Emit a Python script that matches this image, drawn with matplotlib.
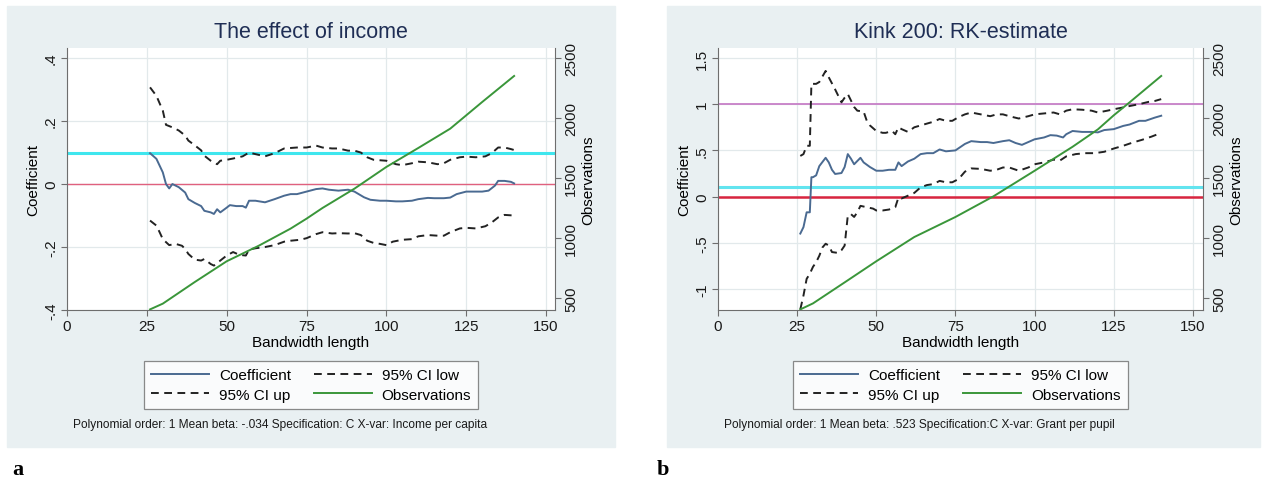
import numpy as np
import matplotlib.pyplot as plt
from matplotlib.lines import Line2D
from matplotlib.patches import Rectangle

plt.rcParams['font.family'] = ['Liberation Sans', 'DejaVu Sans']

# ---- data: (bandwidth, value) ----
# panel a: the effect of income
coef_a = [(26, 0.098), (28, 0.08), (30, 0.037), (31, 0.0), (32, -0.014), (33, 0.0),
          (35, -0.01), (37, -0.027), (38, -0.048), (40, -0.06), (42, -0.07), (43, -0.085),
          (45, -0.09), (46, -0.095), (47, -0.08), (48, -0.09), (50, -0.075), (51, -0.067),
          (53, -0.07), (55, -0.07), (56, -0.075), (57, -0.053), (59, -0.053), (62, -0.058),
          (65, -0.048), (68, -0.037), (70, -0.032), (72, -0.032), (75, -0.024), (78, -0.016),
          (80, -0.014), (82, -0.018), (85, -0.021), (88, -0.018), (90, -0.024), (93, -0.042),
          (95, -0.05), (98, -0.053), (100, -0.053), (103, -0.055), (105, -0.055), (108, -0.053),
          (110, -0.048), (113, -0.044), (115, -0.045), (118, -0.045), (120, -0.043), (122, -0.032),
          (125, -0.024), (128, -0.024), (130, -0.024), (132, -0.021), (134, -0.005), (135, 0.01),
          (137, 0.01), (139, 0.007), (140, 0.002)]
ci_up_a = [(26, 0.307), (28, 0.28), (30, 0.233), (31, 0.188), (33, 0.18), (35, 0.17),
           (37, 0.154), (38, 0.138), (40, 0.123), (42, 0.107), (43, 0.09), (45, 0.074),
           (47, 0.063), (48, 0.074), (50, 0.077), (52, 0.081), (55, 0.088), (57, 0.1),
           (59, 0.095), (62, 0.088), (65, 0.098), (68, 0.113), (72, 0.116), (75, 0.116),
           (78, 0.122), (80, 0.116), (83, 0.113), (85, 0.113), (88, 0.106), (90, 0.106),
           (92, 0.1), (94, 0.085), (96, 0.077), (100, 0.074), (103, 0.063), (105, 0.06),
           (108, 0.066), (110, 0.071), (113, 0.069), (116, 0.063), (118, 0.066), (120, 0.077),
           (123, 0.085), (125, 0.087), (128, 0.085), (131, 0.088), (133, 0.098), (135, 0.116),
           (137, 0.116), (139, 0.111), (140, 0.108)]
ci_low_a = [(26, -0.116), (28, -0.132), (29, -0.153), (30, -0.175), (32, -0.194), (34, -0.19),
            (36, -0.196), (37, -0.206), (38, -0.222), (40, -0.24), (42, -0.243), (43, -0.238),
            (45, -0.254), (46, -0.259), (48, -0.243), (50, -0.227), (52, -0.216), (54, -0.225),
            (56, -0.227), (57, -0.208), (59, -0.204), (62, -0.2), (65, -0.194), (68, -0.183),
            (70, -0.18), (73, -0.177), (75, -0.172), (78, -0.159), (80, -0.153), (83, -0.157),
            (85, -0.156), (88, -0.157), (90, -0.156), (92, -0.162), (94, -0.18), (96, -0.187),
            (98, -0.19), (100, -0.194), (102, -0.183), (105, -0.177), (108, -0.175), (110, -0.166),
            (113, -0.162), (116, -0.164), (118, -0.164), (120, -0.153), (123, -0.141), (125, -0.139),
            (128, -0.141), (131, -0.134), (133, -0.122), (135, -0.106), (137, -0.098), (140, -0.1)]
obs_a = [(26, 405), (30, 453), (40, 633), (50, 806), (60, 935), (70, 1078), (75, 1161),
         (80, 1250), (90, 1411), (100, 1592), (110, 1750), (120, 1911), (125, 2022),
         (130, 2133), (140, 2350)]

# panel b: kink 200, RK-estimate
coef_b = [(26, -0.40), (27, -0.33), (28, -0.17), (29, -0.17), (29.5, 0.21), (30, 0.21),
          (31, 0.23), (32, 0.33), (34, 0.42), (35, 0.37), (36, 0.29), (37, 0.245), (39, 0.255),
          (40, 0.32), (41, 0.46), (42, 0.41), (43, 0.35), (45, 0.42), (46, 0.37), (48, 0.32),
          (50, 0.28), (52, 0.28), (54, 0.29), (56, 0.29), (57, 0.37), (58, 0.33), (60, 0.38),
          (62, 0.41), (64, 0.46), (66, 0.47), (68, 0.47), (70, 0.51), (72, 0.49), (75, 0.50),
          (78, 0.57), (80, 0.60), (83, 0.59), (85, 0.59), (87, 0.58), (90, 0.60), (92, 0.61),
          (94, 0.58), (96, 0.56), (98, 0.59), (100, 0.62), (103, 0.64), (105, 0.665), (107, 0.66),
          (109, 0.64), (110, 0.675), (112, 0.71), (115, 0.70), (118, 0.70), (120, 0.695),
          (122, 0.72), (125, 0.73), (128, 0.765), (130, 0.78), (133, 0.82), (135, 0.82),
          (138, 0.855), (140, 0.875)]
ci_up_b = [(26, 0.44), (27, 0.46), (28, 0.55), (29, 0.55), (29.5, 1.22), (31, 1.22), (32, 1.24),
           (34, 1.36), (35, 1.29), (37, 1.16), (38, 1.09), (39, 1.02), (40, 1.07), (41, 1.11),
           (42, 1.04), (43, 0.97), (44, 0.93), (46, 0.92), (47, 0.82), (48, 0.77), (50, 0.71),
           (52, 0.69), (53, 0.69), (55, 0.71), (56, 0.675), (57, 0.75), (58, 0.73), (60, 0.70),
           (62, 0.75), (64, 0.77), (66, 0.79), (68, 0.81), (70, 0.84), (72, 0.82), (74, 0.82),
           (76, 0.86), (78, 0.89), (80, 0.91), (83, 0.89), (86, 0.87), (88, 0.89), (90, 0.89),
           (92, 0.87), (95, 0.845), (98, 0.87), (100, 0.89), (103, 0.90), (106, 0.91), (108, 0.89),
           (110, 0.93), (112, 0.945), (115, 0.94), (118, 0.93), (120, 0.91), (123, 0.93),
           (125, 0.945), (128, 0.965), (130, 0.98), (133, 1.00), (136, 1.025), (138, 1.035),
           (140, 1.055)]
ci_low_b = [(26, -1.22), (27, -1.07), (28, -0.89), (29, -0.835), (30, -0.76), (31, -0.71),
            (32, -0.64), (33, -0.55), (34, -0.51), (35, -0.53), (36, -0.60), (38, -0.61),
            (39, -0.58), (40, -0.53), (41, -0.205), (42, -0.19), (43, -0.22), (44, -0.17),
            (45, -0.10), (47, -0.115), (49, -0.13), (50, -0.15), (52, -0.15), (54, -0.14),
            (56, -0.115), (57, -0.01), (58, -0.02), (60, 0.01), (62, 0.04), (64, 0.10),
            (66, 0.125), (68, 0.135), (70, 0.17), (72, 0.155), (74, 0.155), (76, 0.19),
            (78, 0.27), (80, 0.305), (83, 0.30), (86, 0.28), (88, 0.29), (90, 0.315), (92, 0.315),
            (95, 0.28), (98, 0.315), (100, 0.35), (103, 0.37), (106, 0.40), (108, 0.39),
            (110, 0.435), (113, 0.46), (116, 0.47), (119, 0.47), (122, 0.485), (125, 0.52),
            (128, 0.55), (131, 0.585), (134, 0.615), (137, 0.65), (140, 0.69)]
obs_b = [(26, 405), (30, 455), (40, 630), (50, 806), (62, 1008), (75, 1175), (87, 1347),
         (100, 1560), (112, 1760), (120, 1905), (125, 2022), (130, 2130), (140, 2350)]

xticks = [0, 25, 50, 75, 100, 125, 150]
obs_ticks = [500, 1000, 1500, 2000, 2500]
yticks_a = [-0.4, -0.2, 0, 0.2, 0.4]
ylabels_a = ['-.4', '-.2', '0', '.2', '.4']
yticks_b = [-1, -0.5, 0, 0.5, 1, 1.5]
ylabels_b = ['-1', '-.5', '0', '.5', '1', '1.5']

titles = ['The effect of income', 'Kink 200: RK-estimate']
notes = ['Polynomial order: 1 Mean beta: -.034 Specification: C X-var: Income per capita',
         'Polynomial order: 1 Mean beta: .523 Specification:C X-var: Grant per pupil']

# ---- drawing ----
W, H = 1266, 489
fig = plt.figure(figsize=(W / 100, H / 100), dpi=100)

BG = '#e9f0f2'
AXC = '#6e6e6e'
COEF_C = '#4a6a91'
CI_C = '#222222'
OBS_C = '#3a963a'

for x0, x1 in [(7, 615), (667, 1260)]:
    fig.add_artist(Rectangle((x0 / W, 1 - 448 / H), (x1 - x0) / W, 441 / H,
                             transform=fig.transFigure, color=BG, zorder=-10))


def panel(l, r, xmax, ylim, yticks, ylabels, title, coef, up, low, obs, hlines, note):
    ax = fig.add_axes([l / W, 1 - 311 / H, (r - l) / W, 262 / H])
    ax.set_facecolor('white')
    for s in ['top', 'right']:
        ax.spines[s].set_visible(False)
    for s in ['left', 'bottom']:
        ax.spines[s].set_color(AXC)
    ax.set_xlim(0, xmax)
    ax.set_ylim(*ylim)
    ax.set_xticks(xticks)
    ax.set_yticks(yticks, ylabels, rotation=90, va='center')
    ax.tick_params(direction='out', length=4, width=0.8, color=AXC,
                   labelsize=11, labelcolor='#1a1a1a', pad=2.5)
    ax.grid(True, color='#e2e9eb', lw=0.9)
    ax.set_axisbelow(True)

    for y, c, lw in hlines:
        ax.axhline(y, color=c, lw=lw, zorder=1.5)

    c = np.array(coef)
    u = np.array(up)
    lo = np.array(low)
    ax.plot(c[:, 0], c[:, 1], color=COEF_C, lw=1.4, zorder=3)
    ax.plot(lo[:, 0], lo[:, 1], color=CI_C, lw=1.4, dashes=(4, 2.8), zorder=3)
    ax.plot(u[:, 0], u[:, 1], color=CI_C, lw=1.4, dashes=(4, 2.8), zorder=3)

    ax.set_xlabel('Bandwidth length', fontsize=11, va='center')
    ax.xaxis.set_label_coords(0.5, -32 / 262)
    ax.set_ylabel('Coefficient', fontsize=11, va='center')
    ax.yaxis.set_label_coords(-34 / (r - l), 0.5)

    ax2 = ax.twinx()
    for s in ['top', 'left', 'bottom']:
        ax2.spines[s].set_visible(False)
    ax2.spines['right'].set_color(AXC)
    o = np.array(obs)
    ax2.plot(o[:, 0], o[:, 1], color=OBS_C, lw=1.4)
    ax2.set_ylim(400, 2583)
    ax2.set_yticks(obs_ticks, [str(t) for t in obs_ticks], rotation=90, va='center')
    ax2.tick_params(direction='out', length=4, width=0.8, color=AXC,
                    labelsize=11, labelcolor='#1a1a1a', pad=2.5)
    ax2.set_ylabel('Observations', fontsize=11, va='center', rotation=90)
    ax2.yaxis.set_label_coords(1 + 33 / (r - l), 0.5)

    cx = (l + r) / 2
    fig.text(cx / W, 1 - 33 / H, title, ha='center', va='center',
             fontsize=15.5, color='#1f2e55')

    handles = [Line2D([], [], color=COEF_C, lw=1.4),
               Line2D([], [], color=CI_C, lw=1.4, dashes=(4, 2.8)),
               Line2D([], [], color=CI_C, lw=1.4, dashes=(4, 2.8)),
               Line2D([], [], color=OBS_C, lw=1.4)]
    labels = ['Coefficient', '95% CI up', '95% CI low', 'Observations']
    leg = ax.legend(handles, labels, ncol=2, loc='center',
                    bbox_to_anchor=(cx / W, 1 - 386 / H), bbox_transform=fig.transFigure,
                    fontsize=11, frameon=True, fancybox=False, edgecolor='#6e6e6e',
                    handlelength=3.8, handletextpad=0.65, columnspacing=1.5,
                    borderpad=0.45, labelspacing=0.35)
    leg.get_frame().set_linewidth(0.9)

    fig.text((l + 6) / W, 1 - 425 / H, note, ha='left', va='center',
             fontsize=8.6, color='#1a1a1a')


panel(67, 555, 152.8, (-0.4, 0.432), yticks_a, ylabels_a, titles[0],
      coef_a, ci_up_a, ci_low_a, obs_a,
      [(0.1, '#3fe6ee', 2.2), (0, '#e0607e', 1.0)], notes[0])
panel(718, 1203, 153.2, (-1.227, 1.608), yticks_b, ylabels_b, titles[1],
      coef_b, ci_up_b, ci_low_b, obs_b,
      [(1, '#c77fc7', 1.3), (0.1, '#62e4ef', 2.2), (0, '#d8253f', 1.8)], notes[1])

fig.text(12 / W, 1 - 470 / H, 'a', fontfamily='Liberation Serif', fontweight='bold',
         fontsize=16, va='center', ha='left')
fig.text(657 / W, 1 - 470 / H, 'b', fontfamily='Liberation Serif', fontweight='bold',
         fontsize=16, va='center', ha='left')

fig.savefig('out.png', dpi=100)
